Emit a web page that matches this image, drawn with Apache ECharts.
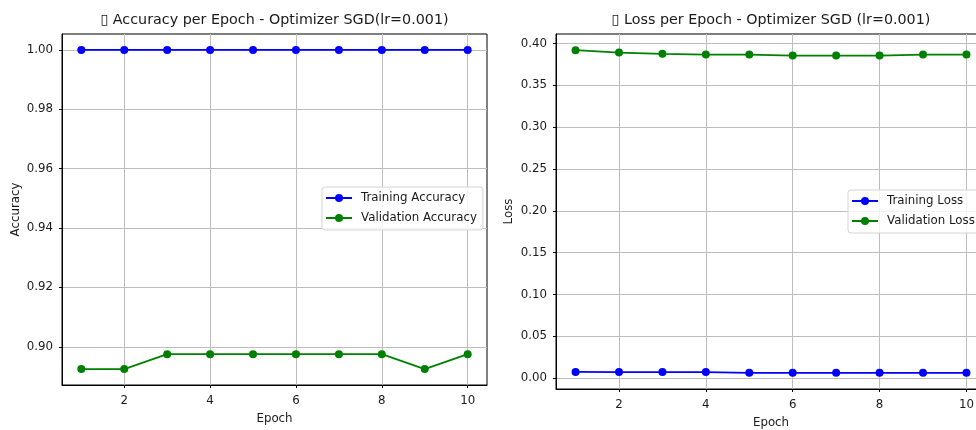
<!DOCTYPE html>
<html>
<head>
<meta charset="utf-8">
<title>SGD training curves</title>
<script src="https://cdn.jsdelivr.net/npm/echarts@6/dist/echarts.min.js"></script>
<style>
    html, body { margin: 0; padding: 0; background: #fff; overflow: hidden; }
    #main { width: 1000px; height: 430px; }
</style>
</head>
<body>
<div id="main"></div>
<script>
// 数据
var epochs = [1, 2, 3, 4, 5, 6, 7, 8, 9, 10];
var trainAcc = [1.0, 1.0, 1.0, 1.0, 1.0, 1.0, 1.0, 1.0, 1.0, 1.0];
var valAcc = [0.8925, 0.8925, 0.8975, 0.8975, 0.8975, 0.8975, 0.8975, 0.8975, 0.8925, 0.8975];
var trainLoss = [0.0074, 0.0073, 0.0073, 0.0072, 0.0063, 0.0064, 0.0064, 0.0063, 0.0063, 0.0063];
var valLoss = [0.3921, 0.3892, 0.3877, 0.3868, 0.3868, 0.3856, 0.3856, 0.3856, 0.3868, 0.3868];

// 刻度
var epochTicks = [2, 4, 6, 8, 10];
var accTicks = [0.90, 0.92, 0.94, 0.96, 0.98, 1.00];
var lossTicks = [0.00, 0.05, 0.10, 0.15, 0.20, 0.25, 0.30, 0.35, 0.40];

var titles = ['\u25AF Accuracy per Epoch - Optimizer SGD(lr=0.001)', '\u25AF Loss per Epoch - Optimizer SGD (lr=0.001)'];

var FONT = 'DejaVu Sans';
var TXT = '#1a1a1a';
var FS = 11.8;   // 刻度/图例字号

// matplotlib 默认留 5% 边距
function pad(arr) {
    var lo = Math.min.apply(null, arr), hi = Math.max.apply(null, arr);
    var d = (hi - lo) * 0.05;
    return [lo - d, hi + d];
}
function pairs(ys) {
    var out = [];
    for (var i = 0; i < epochs.length; i++) out.push([epochs[i], ys[i]]);
    return out;
}

var xr = pad(epochs);
var accR = pad(trainAcc.concat(valAcc));
var lossR = pad(trainLoss.concat(valLoss));

function xAxisOf(idx) {
    return {
        type: 'value', gridIndex: idx, min: xr[0], max: xr[1],
        name: 'Epoch', nameLocation: 'middle', nameGap: 28,
        nameTextStyle: { fontFamily: FONT, fontSize: FS, color: TXT },
        axisLine: { show: true, onZero: false, lineStyle: { color: '#000', width: 1 } },
        axisTick: { show: true, inside: false, length: 3, customValues: epochTicks, lineStyle: { color: '#000' } },
        axisLabel: { customValues: epochTicks, margin: 10, fontFamily: FONT, fontSize: FS, color: TXT },
        splitLine: { show: true, lineStyle: { color: '#bdbdbd', width: 1 } }
    };
}
function yAxisOf(idx, range, ticks, name, gap) {
    return {
        type: 'value', gridIndex: idx, min: range[0], max: range[1],
        name: name, nameLocation: 'middle', nameGap: gap, nameRotate: 90,
        nameTextStyle: { fontFamily: FONT, fontSize: FS, color: TXT },
        axisLine: { show: true, onZero: false, lineStyle: { color: '#000', width: 1 } },
        axisTick: { show: true, inside: false, length: 3, customValues: ticks, lineStyle: { color: '#000' } },
        axisLabel: {
            customValues: ticks, margin: 9, fontFamily: FONT, fontSize: FS, color: TXT,
            formatter: function (v) { return v.toFixed(2); }
        },
        splitLine: { show: true, lineStyle: { color: '#bdbdbd', width: 1 } }
    };
}
function lineOf(name, ys, color, xi, yi) {
    return {
        name: name, type: 'line', xAxisIndex: xi, yAxisIndex: yi,
        data: pairs(ys), symbol: 'circle', symbolSize: 8, clip: false,
        itemStyle: { color: color }, lineStyle: { color: color, width: 1.8 }
    };
}
function legendOf(names, left, top) {
    return {
        orient: 'vertical', left: left, top: top, data: names,
        padding: [4, 6, 5, 3], itemWidth: 26, itemHeight: 10, itemGap: 6,
        backgroundColor: 'rgba(255,255,255,0.8)', borderColor: '#d4d4d4', borderWidth: 1, borderRadius: 3,
        textStyle: { fontFamily: FONT, fontSize: FS, color: TXT, lineHeight: 14, padding: [0, 0, 0, 4] }
    };
}

var myChart = echarts.init(document.getElementById('main'));
var option = {
    animation: false,
    backgroundColor: '#fff',
    title: [
        { text: titles[0], left: 274.5, top: 13, textAlign: 'center', padding: 0,
          textStyle: { fontFamily: FONT, fontSize: 14.3, fontWeight: 'normal', color: TXT } },
        { text: titles[1], left: 771, top: 13, textAlign: 'center', padding: 0,
          textStyle: { fontFamily: FONT, fontSize: 14.3, fontWeight: 'normal', color: TXT } }
    ],
    legend: [
        legendOf(['Training Accuracy', 'Validation Accuracy'], 322, 187),
        legendOf(['Training Loss', 'Validation Loss'], 848, 190)
    ],
    grid: [
        { left: 62, top: 34, width: 425, height: 351, outerBoundsMode: 'none', containLabel: false,
          show: true, borderColor: '#000', borderWidth: 1, backgroundColor: 'transparent' },
        { left: 556, top: 34, width: 430, height: 355, outerBoundsMode: 'none', containLabel: false,
          show: true, borderColor: '#000', borderWidth: 1, backgroundColor: 'transparent' }
    ],
    xAxis: [xAxisOf(0), xAxisOf(1)],
    yAxis: [yAxisOf(0, accR, accTicks, 'Accuracy', 40), yAxisOf(1, lossR, lossTicks, 'Loss', 41)],
    series: [
        lineOf('Training Accuracy', trainAcc, '#0000ff', 0, 0),
        lineOf('Validation Accuracy', valAcc, '#008000', 0, 0),
        lineOf('Training Loss', trainLoss, '#0000ff', 1, 1),
        lineOf('Validation Loss', valLoss, '#008000', 1, 1)
    ]
};
myChart.setOption(option);
window.addEventListener("resize", function () {
    myChart.resize();
});
</script>
</body>
</html>
